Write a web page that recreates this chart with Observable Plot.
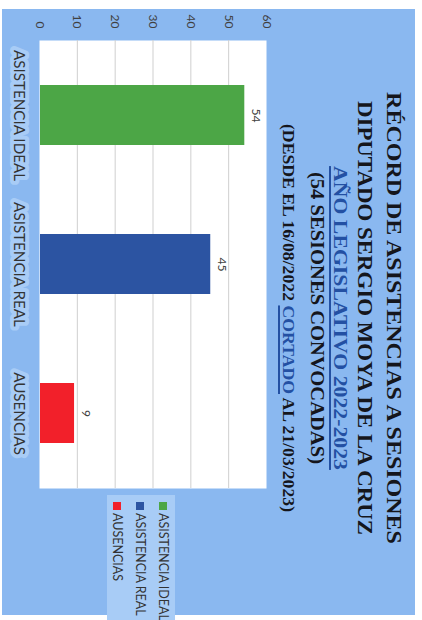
<!DOCTYPE html>
<html>
<head>
<meta charset="utf-8">
<script src="https://cdn.jsdelivr.net/npm/d3@7"></script>
<script src="https://cdn.jsdelivr.net/npm/@observablehq/plot@0.6"></script>
<style>
  html, body { margin:0; padding:0; background:#fff; overflow:hidden; width:422px; height:620px; }
  #stage { position:absolute; left:0; top:0; width:620px; height:422px; transform-origin:0 0; transform:translate(422px,0) rotate(90deg); overflow:hidden; }
  #panel { position:absolute; left:9px; top:7px; width:606px; height:413px; background:#8ab8f0; }
  .tl { position:absolute; left:8px; width:620px; text-align:center; white-space:nowrap; font-family:"Liberation Serif","Times New Roman",serif; font-weight:bold; color:#15161c; transform:scaleX(1.1); transform-origin:50% 50%; }
  .blue { color:#2350a3; text-decoration:underline; text-decoration-thickness:1.5px; text-underline-offset:3px; }
  #chart { position:absolute; left:0; top:145px; }
  #legend { position:absolute; left:495px; top:247px; width:140px; height:68px; background:#a8ccf6; font-family:Lato, sans-serif; font-size:12.5px; color:#333; }
  .lrow { position:absolute; left:7px; height:23px; display:flex; align-items:center; white-space:nowrap; }
  .sw { width:8px; height:8px; margin-right:3px; }
</style>
</head>
<body>
<div id="stage">
  <div id="panel"></div>
  <div id="title"></div>
  <div id="chart"></div>
  <div id="legend"></div>
</div>
<script>
// ---- data ----
const categories = ["ASISTENCIA IDEAL", "ASISTENCIA REAL", "AUSENCIAS"];
const values = [54, 45, 9];
const colors = ["#4ca646", "#2c54a2", "#f2202a"];
const yTicks = [0, 10, 20, 30, 40, 50, 60];
const titleLines = [
  "RÉCORD DE ASISTENCIAS A SESIONES",
  "DIPUTADO SERGIO MOYA DE LA CRUZ",
  "AÑO LEGISLATIVO 2022-2023",
  "(54 SESIONES CONVOCADAS)",
  ["(DESDE EL 16/08/2022 ", "CORTADO", " AL 21/03/2023)"]
];

const data = categories.map((c, i) => ({cat: c, value: values[i]}));

// ---- title ----
const tSizes = [21.8, 20.8, 19.8, 18.7, 16.1];
const tBase = [36, 64, 89, 112, 139];
const titleEl = document.getElementById("title");
titleLines.forEach((line, i) => {
  const d = document.createElement("div");
  d.className = "tl";
  const f = tSizes[i];
  d.style.fontSize = f + "px";
  d.style.lineHeight = f + "px";
  d.style.top = (tBase[i] - 0.8375 * f) + "px";
  if (Array.isArray(line)) {
    line.forEach((part, j) => {
      const s = document.createElement("span");
      s.textContent = part;
      if (j === 1) s.className = "blue";
      d.appendChild(s);
    });
  } else {
    const s = document.createElement("span");
    s.textContent = line;
    if (i === 2) s.className = "blue";
    d.appendChild(s);
  }
  titleEl.appendChild(d);
});

// ---- chart ----
const chart = Plot.plot({
  width: 620,
  height: 277,
  marginLeft: 40,
  marginRight: 132,
  marginTop: 10,
  marginBottom: 40,
  style: {background: "transparent", fontFamily: "Lato, sans-serif", overflow: "visible"},
  x: {domain: categories, paddingInner: 0.6, paddingOuter: 0.3, axis: null},
  y: {domain: [0, 60], axis: null},
  color: {domain: categories, range: colors},
  marks: [
    Plot.frame({fill: "white", stroke: null}),
    Plot.gridY(yTicks.slice(1, -1), {stroke: "#cfcfcf", strokeOpacity: 1}),
    Plot.barY(data, {x: "cat", y: "value", fill: "cat"}),
    Plot.text(data, {x: "cat", y: "value", text: d => String(d.value), lineAnchor: "bottom", dy: -8, fontSize: 12, fill: "#404040"}),
    Plot.axisY({ticks: yTicks, tickSize: 0, tickPadding: 12, fontSize: 12, fill: "#404040", label: null}),
    Plot.text(categories, {x: d => d, frameAnchor: "bottom", dy: 21, lineAnchor: "middle", fontSize: 15.2, fill: "#333", stroke: "#a8ccf6", strokeWidth: 8})
  ]
});
document.getElementById("chart").appendChild(chart);

// ---- legend ----
const legend = document.getElementById("legend");
categories.forEach((c, i) => {
  const row = document.createElement("div");
  row.className = "lrow";
  row.style.top = (i * 23) + "px";
  const sw = document.createElement("div");
  sw.className = "sw";
  sw.style.background = colors[i];
  const lab = document.createElement("span");
  lab.textContent = c;
  row.appendChild(sw);
  row.appendChild(lab);
  legend.appendChild(row);
});
</script>
</body>
</html>
